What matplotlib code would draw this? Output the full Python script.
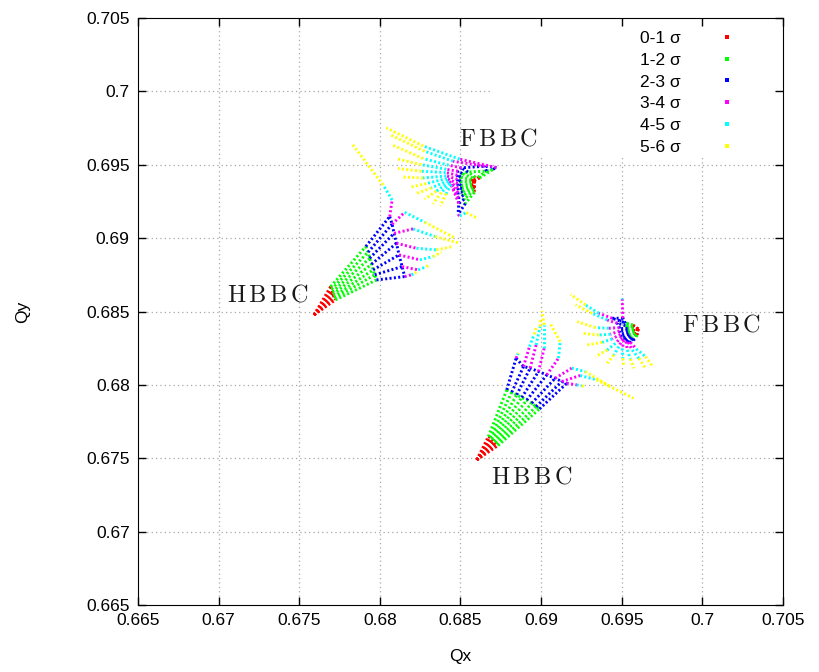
import numpy as np
import matplotlib.pyplot as plt
from matplotlib.lines import Line2D

plt.rcParams['font.family'] = ['Liberation Sans', 'DejaVu Sans']
plt.rcParams['mathtext.fontset'] = 'cm'

# legend / colour bands
sigma_labels = ['0-1 σ', '1-2 σ', '2-3 σ', '3-4 σ', '4-5 σ', '5-6 σ']
band_colors = ['#ff0000', '#00ff00', '#0000ff', '#ff00ff', '#00ffff', '#ffff00']

xticks = [0.665, 0.67, 0.675, 0.68, 0.685, 0.69, 0.695, 0.7, 0.705]
yticks = [0.665, 0.67, 0.675, 0.68, 0.685, 0.69, 0.695, 0.7, 0.705]
tick_labels = ['0.665', '0.67', '0.675', '0.68', '0.685', '0.69', '0.695', '0.7', '0.705']

# footprints: tune of zero amplitude particle + tune shift (1e-3) of each ray
# columns = amplitude 0,1,2,3,4,5,6 sigma
hbbc1_q0 = (0.67592, 0.68477)
hbbc1_dqx = [[0, 1.03, 3.21, 4.69, 4.84, 4.28, 2.32],
             [0, 1.08, 3.35, 4.84, 5.62, 6.87, 8.69],
             [0, 1.14, 3.45, 4.96, 6.14, 7.49, 9.04],
             [0, 1.18, 3.56, 5.11, 6.35, 7.59, 8.62],
             [0, 1.22, 3.66, 5.27, 6.56, 7.38, 7.90],
             [0, 1.28, 3.76, 5.46, 6.45, 6.97, 7.18],
             [0, 1.32, 3.87, 5.62, 6.04, 6.25, 6.35]]
hbbc1_dqy = [[0, 1.93, 4.66, 6.70, 7.83, 8.86, 11.70],
             [0, 1.75, 4.27, 6.18, 6.99, 6.31, 5.27],
             [0, 1.57, 3.86, 5.56, 5.86, 5.34, 4.88],
             [0, 1.41, 3.45, 4.88, 4.54, 4.43, 4.66],
             [0, 1.25, 3.07, 4.09, 3.75, 3.97, 4.27],
             [0, 1.14, 2.73, 3.29, 3.07, 3.29, 3.41],
             [0, 1.02, 2.38, 2.61, 2.73, 2.84, 2.91]]

hbbc2_q0 = (0.68601, 0.67489)
hbbc2_dqx = [[0, 0.72, 1.86, 2.44, 2.52, 2.56, 2.59],
             [0, 0.83, 2.17, 2.90, 3.27, 3.56, 3.68],
             [0, 0.91, 2.48, 3.31, 3.68, 3.93, 3.97],
             [0, 0.99, 2.79, 3.83, 4.18, 4.18, 4.03],
             [0, 1.08, 3.10, 4.34, 5.07, 5.17, 4.55],
             [0, 1.16, 3.41, 4.86, 5.89, 6.72, 8.27],
             [0, 1.24, 3.68, 5.27, 6.41, 7.44, 9.72],
             [0, 1.32, 3.89, 5.58, 6.20, 6.51, 6.72]]
hbbc2_dqy = [[0, 1.59, 4.77, 6.93, 7.15, 7.24, 7.29],
             [0, 1.52, 4.61, 6.36, 7.72, 8.56, 8.97],
             [0, 1.43, 4.43, 6.25, 7.83, 9.08, 9.65],
             [0, 1.34, 4.25, 6.02, 7.61, 9.20, 10.15],
             [0, 1.25, 4.07, 5.79, 6.93, 8.06, 9.31],
             [0, 1.16, 3.86, 5.56, 6.25, 6.02, 5.00],
             [0, 1.07, 3.63, 5.34, 5.75, 5.45, 4.20],
             [0, 0.98, 3.47, 5.22, 5.11, 5.04, 5.00]]

fbbc1_q0 = (0.68584, 0.69390)
fbbc1_dqx = [[0, 0.35, 1.18, 1.39, -0.89, -3.16, -5.44],
             [0, 0.25, 0.77, 0.66, -1.30, -3.06, -5.13],
             [0, 0.08, -0.37, -0.79, -1.57, -3.16, -5.03],
             [0, -0.08, -0.74, -0.99, -1.72, -3.27, -4.82],
             [0, -0.17, -0.83, -1.03, -1.76, -3.27, -4.72],
             [0, -0.17, -0.83, -1.03, -1.72, -3.16, -4.51],
             [0, -0.14, -0.79, -1.01, -1.68, -2.96, -3.89],
             [0, -0.12, -0.74, -0.99, -1.61, -2.65, -3.58],
             [0, -0.08, -0.70, -0.99, -1.55, -2.34, -3.06],
             [0, -0.04, -0.66, -0.97, -1.49, -2.03, -2.54],
             [0, 0.00, -0.62, -0.95, -1.41, -1.72, -2.09],
             [0, 0.02, -0.54, -0.99, -0.89, -0.48, 0.25]]
fbbc1_dqy = [[0, 0.20, 0.79, 0.91, 1.48, 2.38, 3.61],
             [0, 0.25, 0.66, 1.00, 1.34, 2.02, 3.11],
             [0, 0.25, 0.61, 0.89, 1.07, 1.52, 2.43],
             [0, 0.20, 0.50, 0.66, 0.79, 1.11, 1.52],
             [0, 0.07, 0.27, 0.39, 0.57, 0.66, 0.84],
             [0, -0.07, -0.02, 0.11, 0.34, 0.20, 0.27],
             [0, -0.20, -0.30, -0.18, 0.16, -0.18, -0.41],
             [0, -0.32, -0.52, -0.48, 0.02, -0.48, -0.86],
             [0, -0.43, -0.75, -0.79, -0.09, -0.70, -1.25],
             [0, -0.52, -0.98, -1.16, -0.18, -0.79, -1.57],
             [0, -0.64, -1.25, -1.54, -0.25, -0.86, -1.70],
             [0, -0.79, -1.54, -2.29, -2.38, -2.16, -2.57]]

fbbc2_q0 = (0.69602, 0.68381)
fbbc2_dqx = [[0, -0.33, -0.89, -1.61, -2.44, -3.27, -4.20],
             [0, -0.33, -0.79, -0.95, -0.99, -0.99, -0.99],
             [0, -0.33, -0.79, -1.30, -1.92, -2.85, -3.89],
             [0, -0.29, -0.68, -1.16, -1.82, -2.65, -3.78],
             [0, -0.27, -0.66, -1.16, -1.72, -2.44, -3.47],
             [0, -0.25, -0.62, -1.10, -1.61, -2.23, -3.16],
             [0, -0.23, -0.58, -1.03, -1.41, -1.92, -2.65],
             [0, -0.21, -0.52, -0.95, -1.20, -1.51, -1.92],
             [0, -0.19, -0.45, -0.87, -0.99, -0.95, -0.89],
             [0, -0.14, -0.37, -0.74, -0.68, -0.48, -0.27],
             [0, -0.10, -0.29, -0.62, -0.37, 0.04, 0.45],
             [0, -0.06, -0.21, -0.48, -0.12, 0.45, 0.91]]
fbbc2_dqy = [[0, 0.27, 0.45, 0.73, 1.07, 1.64, 2.36],
             [0, 0.23, 0.39, 0.73, 2.04, 2.09, 2.09],
             [0, 0.14, 0.23, 0.39, 0.61, 1.07, 1.64],
             [0, 0.05, 0.09, 0.09, 0.05, 0.09, 0.50],
             [0, -0.05, -0.07, -0.14, -0.36, -0.41, -0.30],
             [0, -0.11, -0.23, -0.36, -0.68, -0.91, -1.09],
             [0, -0.18, -0.36, -0.55, -0.98, -1.43, -1.88],
             [0, -0.25, -0.45, -0.68, -1.20, -1.77, -2.34],
             [0, -0.32, -0.55, -0.77, -1.32, -2.00, -2.57],
             [0, -0.36, -0.64, -0.86, -1.43, -2.04, -2.68],
             [0, -0.41, -0.68, -0.91, -1.43, -2.00, -2.68],
             [0, -0.41, -0.68, -0.91, -1.36, -1.88, -2.57]]

# label text and where it sits (data coords)
label_texts = ['FBBC', 'FBBC', 'HBBC', 'HBBC']
label_qx = [0.68736, 0.70122, 0.67306, 0.68944]
label_qy = [0.69669, 0.68402, 0.68606, 0.67367]

fig = plt.figure(figsize=(8.19, 6.72), dpi=100)
ax = fig.add_axes([0.1685, 0.0997, 0.7875, 0.8735])

# (q0, dqx, dqy, number of amplitude rings joined across rays)
footprints = [(hbbc1_q0, hbbc1_dqx, hbbc1_dqy, 3),
              (hbbc2_q0, hbbc2_dqx, hbbc2_dqy, 3),
              (fbbc1_q0, fbbc1_dqx, fbbc1_dqy, 3),
              (fbbc2_q0, fbbc2_dqx, fbbc2_dqy, 3)]

dots = (0, (0.7, 0.8))
for b in range(6):  # gnuplot draws 0-1 sigma first, 5-6 last
    for q0, dqx, dqy, n_arc in footprints:
        qx = q0[0] + np.array(dqx) * 1e-3
        qy = q0[1] + np.array(dqy) * 1e-3
        for r in range(qx.shape[0]):
            ax.plot(qx[r, b:b + 2], qy[r, b:b + 2], color=band_colors[b],
                    ls=dots, lw=2.1, zorder=2)
        if b < n_arc:
            ax.plot(qx[:, b + 1], qy[:, b + 1], color=band_colors[b],
                    ls=dots, lw=2.1, zorder=2)

for t, x, y in zip(label_texts, label_qx, label_qy):
    ax.text(x, y, r'$\mathrm{' + r'\,'.join(t) + '}$', fontsize=17.5,
            ha='center', va='center', color='#1a1a1a', zorder=3)

# grid, hidden behind the key like gnuplot does
grid_kw = dict(color='#a8a8a8', ls=(0, (1, 2.5)), lw=0.9, zorder=0.5)
for x in xticks[1:-1]:
    ax.axvline(x, 0, 0.763 if x > 0.687 else 1, **grid_kw)
for y in yticks[1:-1]:
    ax.axhline(y, 0, 0.546 if y > 0.6955 else 1, **grid_kw)

ax.set_xlim(0.665, 0.705)
ax.set_ylim(0.665, 0.705)
ax.set_xticks(xticks)
ax.set_xticklabels(tick_labels)
ax.set_yticks(yticks)
ax.set_yticklabels(tick_labels)
ax.tick_params(direction='in', top=True, right=True, length=6, width=1,
               labelsize=12.5, pad=6)
ax.set_xlabel('Qx', fontsize=12.5, labelpad=15)
ax.set_ylabel('Qy', fontsize=12.5, labelpad=40)

handles = [Line2D([], [], ls='', marker='s', ms=2.2, mew=0, color=c) for c in band_colors]
ax.legend(handles, sigma_labels, loc='upper right', bbox_to_anchor=(0.927, 0.978),
          markerfirst=False, frameon=False, fontsize=12.5, labelspacing=0.38,
          handlelength=1.0, handletextpad=2.2, borderpad=0, borderaxespad=0)

fig.savefig('out.png', dpi=100)
